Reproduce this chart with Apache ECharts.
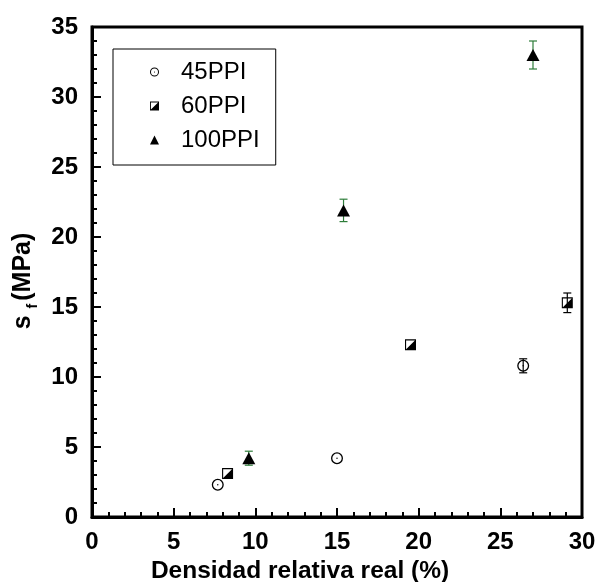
<!DOCTYPE html>
<html>
<head>
<meta charset="utf-8">
<script src="https://cdn.jsdelivr.net/npm/echarts@6/dist/echarts.min.js"></script>
<style>
html,body{margin:0;padding:0;background:#fff;}
#chart{width:598px;height:582px;}
</style>
</head>
<body>
<div id="chart"></div>
<script>
// ---- data ----
var seriesNames = ['45PPI', '60PPI', '100PPI'];
var x45 = [7.7, 15.0, 26.4];
var y45 = [2.3, 4.2, 10.8];
var e45 = [0, 0, 0.5];
var x60 = [8.3, 19.5, 29.1];
var y60 = [3.1, 12.3, 15.3];
var e60 = [0, 0, 0.7];
var x100 = [9.6, 15.4, 27.0];
var y100 = [4.2, 21.9, 33.0];
var e100 = [0.5, 0.8, 1.0];
var xTicks = [0, 5, 10, 15, 20, 25, 30];
var yTicks = [0, 5, 10, 15, 20, 25, 30, 35];

function pairs(xs, ys) { return xs.map(function (x, i) { return [x, ys[i]]; }); }
function triples(xs, ys, es) { return xs.map(function (x, i) { return [x, ys[i], es[i]]; }); }

var ringPath = 'path://M0,5A5,5,0,1,1,10,5A5,5,0,1,1,0,5ZM1.1,5A3.9,3.9,0,1,0,8.9,5A3.9,3.9,0,1,0,1.1,5ZM4.4,5A0.6,0.6,0,1,1,5.6,5A0.6,0.6,0,1,1,4.4,5Z';
var halfSquarePath = 'path://M0,0H10V10H0ZM1,1V9H9V1ZM9,1V9H1Z';

function errRender(color) {
  return function (params, api) {
    var x = api.value(0), y = api.value(1), e = api.value(2);
    if (!e) { return null; }
    var top = api.coord([x, y + e]);
    var bot = api.coord([x, y - e]);
    var hw = 4;
    var st = { stroke: color, lineWidth: 1.2 };
    return {
      type: 'group',
      children: [
        { type: 'line', shape: { x1: top[0], y1: top[1], x2: bot[0], y2: bot[1] }, style: st },
        { type: 'line', shape: { x1: top[0] - hw, y1: top[1], x2: top[0] + hw, y2: top[1] }, style: st },
        { type: 'line', shape: { x1: bot[0] - hw, y1: bot[1], x2: bot[0] + hw, y2: bot[1] }, style: st }
      ]
    };
  };
}

var chart = echarts.init(document.getElementById('chart'), null, { renderer: 'canvas' });
var font = 'Arial, "Liberation Sans", sans-serif';

var option = {
  backgroundColor: '#fff',
  animation: false,
  grid: { left: 92, right: 16, top: 27, bottom: 65, outerBoundsMode: 'none', containLabel: false,
    show: true, borderColor: '#000', borderWidth: 3, backgroundColor: 'transparent' },
  xAxis: {
    type: 'value', min: 0, max: 30, interval: 5,
    name: 'Densidad relativa real (%)', nameLocation: 'middle', nameGap: 40,
    nameTextStyle: { fontFamily: font, fontWeight: 'bold', fontSize: 24.5, color: '#000', padding: [0, 74, 0, 0] },
    axisLine: { show: true, lineStyle: { color: '#000', width: 3 } },
    axisTick: { show: true, inside: true, length: 9, lineStyle: { color: '#000', width: 2 } },
    minorTick: { show: true, splitNumber: 5, length: 5, lineStyle: { color: '#000', width: 2 } },
    splitLine: { show: false },
    axisLabel: { margin: 13, fontFamily: font, fontWeight: 'bold', fontSize: 24, color: '#000',
      formatter: function (v) { return xTicks.indexOf(v) >= 0 ? String(v) : ''; } }
  },
  yAxis: {
    type: 'value', min: 0, max: 35, interval: 5,
    name: '{s|s }{sub|f}{s|(MPa)}', nameLocation: 'middle', nameGap: 50, nameRotate: 90,
    nameTextStyle: { fontFamily: font, fontWeight: 'bold', fontSize: 25, color: '#000', padding: [0, 18, 0, 0],
      rich: {
        s: { fontFamily: font, fontWeight: 'bold', fontSize: 25, color: '#000', lineHeight: 34, verticalAlign: 'middle' },
        sub: { fontFamily: font, fontSize: 14, color: '#000', lineHeight: 34, verticalAlign: 'bottom', padding: [0, 3, 0, 0] }
      } },
    axisLine: { show: true, lineStyle: { color: '#000', width: 3 } },
    axisTick: { show: true, inside: true, length: 9, lineStyle: { color: '#000', width: 2 } },
    minorTick: { show: true, splitNumber: 5, length: 5, lineStyle: { color: '#000', width: 2 } },
    splitLine: { show: false },
    axisLabel: { margin: 14, fontFamily: font, fontWeight: 'bold', fontSize: 24, color: '#000',
      formatter: function (v) { return yTicks.indexOf(v) >= 0 ? String(v) : ''; } }
  },
  legend: {
    orient: 'vertical', left: 113, top: 49,
    padding: [11, 16, 13, 37],
    itemWidth: 9, itemHeight: 9, itemGap: 10,
    borderColor: '#000', borderWidth: 1, backgroundColor: '#fff',
    textStyle: { fontFamily: font, fontSize: 24, color: '#000', lineHeight: 24, padding: [0, 0, 0, 17] },
    data: [
      { name: seriesNames[0], icon: ringPath },
      { name: seriesNames[1], icon: halfSquarePath },
      { name: seriesNames[2], icon: 'triangle' }
    ]
  },
  series: [
    { type: 'custom', name: 'e45', renderItem: errRender('#000'), data: triples(x45, y45, e45), z: 1, silent: true },
    { type: 'custom', name: 'e60', renderItem: errRender('#000'), data: triples(x60, y60, e60), z: 1, silent: true },
    { type: 'custom', name: 'e100', renderItem: errRender('#2e7d3a'), data: triples(x100, y100, e100), z: 1, silent: true },
    { type: 'scatter', name: seriesNames[0], symbol: ringPath, symbolSize: 12, data: pairs(x45, y45),
      itemStyle: { color: '#000', opacity: 1 }, z: 3 },
    { type: 'scatter', name: seriesNames[1], symbol: halfSquarePath, symbolSize: 11, data: pairs(x60, y60),
      itemStyle: { color: '#000', opacity: 1 }, z: 3 },
    { type: 'scatter', name: seriesNames[2], symbol: 'triangle', symbolSize: [13, 12], data: pairs(x100, y100),
      itemStyle: { color: '#000', opacity: 1 }, z: 3 }
  ]
};
chart.setOption(option);
</script>
</body>
</html>
